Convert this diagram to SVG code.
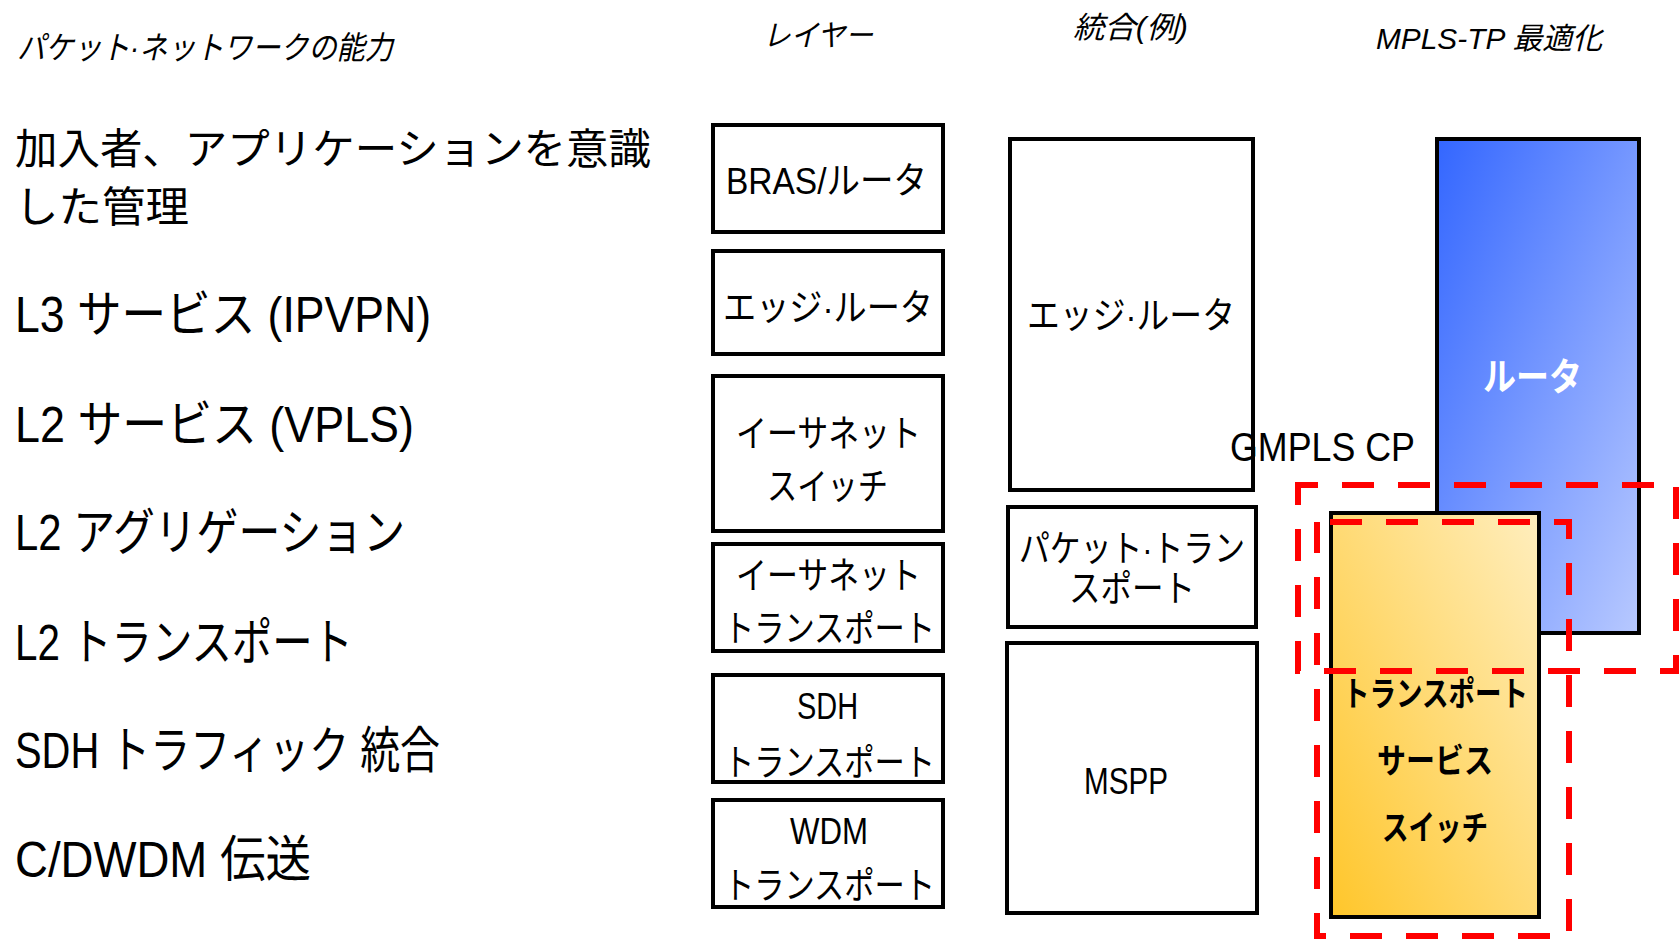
<svg xmlns="http://www.w3.org/2000/svg" width="1679" height="940" viewBox="0 0 1679 940">
<style>
text{font-family:"Liberation Sans","Noto Sans CJK JP",sans-serif;fill:#000}
.hdr{font-size:30px;font-style:italic}
.cap{font-size:50px}
.cap1{font-size:42px}
.box{fill:#fff;stroke:#000;stroke-width:4}
.bt{font-size:37px}
.bold{font-weight:bold}
.dash{fill:none;stroke:#f00;stroke-width:6;stroke-dasharray:32 24}
</style>
<defs>
<linearGradient id="gBlue" x1="0" y1="0" x2="1" y2="1">
<stop offset="0" stop-color="#3366FF"/>
<stop offset="1" stop-color="#B8C9FF"/>
</linearGradient>
<linearGradient id="gOrange" x1="0" y1="1" x2="1" y2="0">
<stop offset="0" stop-color="#FFC62A"/>
<stop offset="1" stop-color="#FFEEBE"/>
</linearGradient>
</defs>
<rect width="1679" height="940" fill="#fff"/>

<g id="headers">
<text class="hdr" x="17" y="59" textLength="376" lengthAdjust="spacingAndGlyphs" style="font-size:32px">パケット·ネットワークの能力</text>
<text class="hdr" x="763" y="46" textLength="110" lengthAdjust="spacingAndGlyphs">レイヤー</text>
<text class="hdr" x="1073" y="38" textLength="115" lengthAdjust="spacingAndGlyphs">統合(例)</text>
<text class="hdr" x="1376" y="49" textLength="226" lengthAdjust="spacingAndGlyphs">MPLS-TP 最適化</text>
</g>

<g id="capabilities">
<text class="cap1" x="15" y="164" textLength="636" lengthAdjust="spacingAndGlyphs">加入者、アプリケーションを意識</text>
<text class="cap1" x="15" y="222" textLength="174" lengthAdjust="spacingAndGlyphs">した管理</text>
<text class="cap" x="15" y="332" textLength="416" lengthAdjust="spacingAndGlyphs">L3 サービス (IPVPN)</text>
<text class="cap" x="15" y="442" textLength="399" lengthAdjust="spacingAndGlyphs">L2 サービス (VPLS)</text>
<text class="cap" x="15" y="550" textLength="390" lengthAdjust="spacingAndGlyphs">L2 アグリゲーション</text>
<text class="cap" x="15" y="660" textLength="338" lengthAdjust="spacingAndGlyphs">L2 トランスポート</text>
<text class="cap" x="15" y="768" textLength="425" lengthAdjust="spacingAndGlyphs">SDH トラフィック 統合</text>
<text class="cap" x="15" y="877" textLength="296" lengthAdjust="spacingAndGlyphs">C/DWDM 伝送</text>
</g>

<g id="layer-bras">
<rect class="box" x="713" y="125" width="230" height="107"/>
<text class="bt" x="726" y="194" textLength="201" lengthAdjust="spacingAndGlyphs">BRAS/ルータ</text>
</g>
<g id="layer-edge">
<rect class="box" x="713" y="251" width="230" height="103"/>
<text class="bt" x="723" y="321" textLength="210" lengthAdjust="spacingAndGlyphs">エッジ·ルータ</text>
</g>
<g id="layer-ethswitch">
<rect class="box" x="713" y="376" width="230" height="155"/>
<text class="bt" x="736" y="447" textLength="185" lengthAdjust="spacingAndGlyphs">イーサネット</text>
<text class="bt" x="767" y="500" textLength="121" lengthAdjust="spacingAndGlyphs">スイッチ</text>
</g>
<g id="layer-ethtransport">
<rect class="box" x="713" y="544" width="230" height="107"/>
<text class="bt" x="736" y="589" textLength="185" lengthAdjust="spacingAndGlyphs">イーサネット</text>
<text class="bt" x="724" y="642" textLength="211" lengthAdjust="spacingAndGlyphs">トランスポート</text>
</g>
<g id="layer-sdh">
<rect class="box" x="713" y="675" width="230" height="107"/>
<text class="bt" x="797" y="719" textLength="61" lengthAdjust="spacingAndGlyphs">SDH</text>
<text class="bt" x="724" y="776" textLength="211" lengthAdjust="spacingAndGlyphs">トランスポート</text>
</g>
<g id="layer-wdm">
<rect class="box" x="713" y="800" width="230" height="107"/>
<text class="bt" x="790" y="844" textLength="78" lengthAdjust="spacingAndGlyphs">WDM</text>
<text class="bt" x="724" y="899" textLength="211" lengthAdjust="spacingAndGlyphs">トランスポート</text>
</g>

<g id="int-edge">
<rect class="box" x="1010" y="139" width="243" height="351"/>
<text class="bt" x="1027" y="329" textLength="208" lengthAdjust="spacingAndGlyphs">エッジ·ルータ</text>
</g>
<g id="int-packet">
<rect class="box" x="1008" y="507" width="248" height="120"/>
<text class="bt" x="1019" y="562" textLength="226" lengthAdjust="spacingAndGlyphs">パケット·トラン</text>
<text class="bt" x="1069" y="602" textLength="126" lengthAdjust="spacingAndGlyphs">スポート</text>
</g>
<g id="int-mspp">
<rect class="box" x="1007" y="643" width="250" height="270"/>
<text class="bt" x="1084" y="794" textLength="84" lengthAdjust="spacingAndGlyphs">MSPP</text>
</g>

<g id="mpls-router">
<rect x="1437" y="139" width="202" height="494" fill="url(#gBlue)" stroke="#000" stroke-width="4"/>
<text class="bold" x="1483" y="390" style="fill:#fff;font-size:38px" textLength="99" lengthAdjust="spacingAndGlyphs">ルータ</text>
</g>
<g id="mpls-tss">
<rect x="1331" y="513" width="208" height="404" fill="url(#gOrange)" stroke="#000" stroke-width="4"/>
<text class="bold" x="1343" y="706" style="font-size:34px" textLength="185" lengthAdjust="spacingAndGlyphs">トランスポート</text>
<text class="bold" x="1377" y="773" style="font-size:34px" textLength="116" lengthAdjust="spacingAndGlyphs">サービス</text>
<text class="bold" x="1382" y="840" style="font-size:34px" textLength="106" lengthAdjust="spacingAndGlyphs">スイッチ</text>
</g>

<g id="connectors">
<rect class="dash" x="1298" y="485" width="378" height="186" stroke-dashoffset="12"/>
<rect class="dash" x="1317" y="522" width="252" height="414" stroke-dashoffset="43"/>
</g>

<g id="gmpls-label">
<text x="1230" y="461" style="font-size:40px" textLength="185" lengthAdjust="spacingAndGlyphs">GMPLS CP</text>
</g>
</svg>
